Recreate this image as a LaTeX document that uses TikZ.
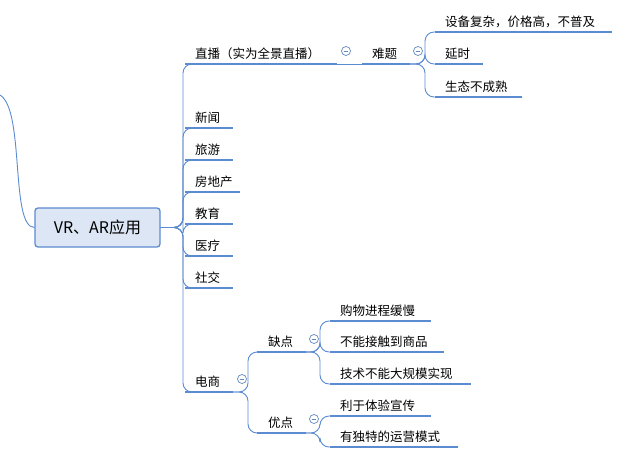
\documentclass[tikz,border=0pt]{standalone}
\usepackage{fontspec}
\setmainfont{Noto Sans CJK SC}
\definecolor{ln}{HTML}{5B8BD0}
\definecolor{rootfill}{HTML}{DCE6F4}
\tikzset{
  lbl/.style={anchor=south west,inner sep=0pt,font=\fontsize{12.5}{14}\selectfont},
  ul/.style={draw=ln,line width=2.6pt},
  cn/.style={draw=ln,line width=0.9pt,rounded corners=9pt},
  tog/.style={circle,draw=ln!80!gray,line width=0.7pt,minimum size=9pt,inner sep=0pt,fill=white,
    path picture={\draw[ln!80!gray,line width=0.7pt] ([xshift=-2.3pt]path picture bounding box.center)--([xshift=2.3pt]path picture bounding box.center);}}
}
\begin{document}
\begin{tikzpicture}[x=1pt,y=-1pt]
\useasboundingbox (0,0) rectangle (622,463);
% root
\node[draw=ln,fill=rootfill,line width=1.3pt,rounded corners=3pt,minimum width=125pt,minimum height=39pt,font=\fontsize{16}{18}\selectfont] (root) at (97.5,227.5) {VR、AR应用};
\coordinate (par) at (0,95);
\draw[ln,line width=0.9pt] (par) .. controls (25,110) and (10,227) .. (root.west);
% level-1 children: name, y, x end, text
\foreach \n/\y/\e/\t in {zb/64/337/直播（实为全景直播）, xw/128/233/新闻, ly/160/233/旅游, fdc/192/240/房地产, jy/224/233/教育, yl/256/233/医疗, sj/288/233/社交, ds/392/233/电商}{
  \node[lbl] (\n) at (195,\y-4) {\t};
  \coordinate (\n s) at (185,\y);
  \coordinate (\n e) at (\e,\y);
  \draw[ul] (\n s) -- (\n e);
  \draw[cn] (root.east) -| (183,\y) -- (\n s);
}
% toggles
\node[tog] (t1) at (346,51) {};
\node[tog] (t2) at (418,51) {};
\node[tog] (t3) at (242,379) {};
\node[tog] (t4) at (314,339) {};
\node[tog] (t5) at (314,419) {};
% 难题
\node[lbl] (nt) at (372,60) {难题};
\coordinate (nts) at (362,64); \coordinate (nte) at (410,64);
\draw[ul] (nts) -- (nte);
\draw[ln,line width=0.9pt] (zbe) -- (nts);
\foreach \n/\y/\e/\t in {a/32/612/设备复杂，价格高，不普及, b/64/483/延时, c/97/522/生态不成熟}{
  \node[lbl] (\n) at (445,\y-4) {\t};
  \coordinate (\n s) at (435,\y); \coordinate (\n e) at (\e,\y);
  \draw[ul] (\n s) -- (\n e);
  \draw[cn] (nte) -| (425,\y) -- (\n s);
}
% 电商 children
\foreach \n/\y/\t in {qd/352/缺点, yd/433/优点}{
  \node[lbl] (\n) at (268,\y-4) {\t};
  \coordinate (\n s) at (257,\y); \coordinate (\n e) at (306,\y);
  \draw[ul] (\n s) -- (\n e);
  \draw[cn] (dse) -| (248,\y) -- (\n s);
}
\foreach \n/\y/\e/\t in {d1/321/431/购物进程缓慢, d2/352/444/不能接触到商品, d3/384/471/技术不能大规模实现}{
  \node[lbl] (\n) at (340,\y-4) {\t};
  \coordinate (\n s) at (330,\y); \coordinate (\n e) at (\e,\y);
  \draw[ul] (\n s) -- (\n e);
  \draw[cn] (qde) -| (320,\y) -- (\n s);
}
\foreach \n/\y/\e/\t in {u1/416/431/利于体验宣传, u2/447/458/有独特的运营模式}{
  \node[lbl] (\n) at (340,\y-4) {\t};
  \coordinate (\n s) at (330,\y); \coordinate (\n e) at (\e,\y);
  \draw[ul] (\n s) -- (\n e);
  \draw[cn] (yde) -| (320,\y) -- (\n s);
}
\end{tikzpicture}
\end{document}
